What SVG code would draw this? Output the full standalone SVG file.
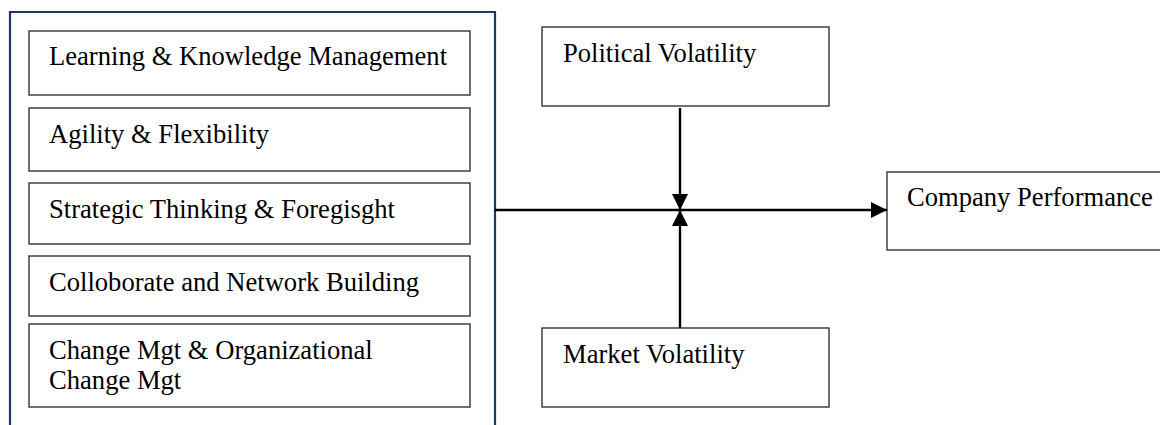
<svg xmlns="http://www.w3.org/2000/svg" width="1160" height="425" viewBox="0 0 1160 425">
  <style>
    .box { fill: #ffffff; stroke: #333333; stroke-width: 1.4; }
    .frame { fill: none; stroke: #1f3864; stroke-width: 2.2; }
    .label { font-family: "Liberation Serif", "Times New Roman", serif; font-size: 26.6px; fill: #000000; }
    .link { stroke: #000000; stroke-width: 2.4; fill: none; }
  </style>
  <defs>
    <marker id="head" viewBox="0 0 16 16" refX="16" refY="8" markerWidth="16" markerHeight="16" markerUnits="userSpaceOnUse" orient="auto">
      <path d="M0,0 L16,8 L0,16 Z" fill="#000000"/>
    </marker>
  </defs>
  <rect width="1160" height="425" fill="#ffffff"/>

  <!-- container framing the leadership capabilities -->
  <g id="capabilities">
    <path class="frame" d="M10,440 L10,12 L495,12 L495,440"/>
  </g>

  <g id="learning">
    <rect class="box" x="29" y="31" width="441" height="64"/>
    <text class="label" x="49" y="65">Learning &amp; Knowledge Management</text>
  </g>
  <g id="agility">
    <rect class="box" x="29" y="108" width="441" height="63"/>
    <text class="label" x="49" y="143">Agility &amp; Flexibility</text>
  </g>
  <g id="strategic">
    <rect class="box" x="29" y="183" width="441" height="61"/>
    <text class="label" x="49" y="218">Strategic Thinking &amp; Foregisght</text>
  </g>
  <g id="collaborate">
    <rect class="box" x="29" y="256" width="441" height="60"/>
    <text class="label" x="49" y="291">Colloborate and Network Building</text>
  </g>
  <g id="change">
    <rect class="box" x="29" y="324" width="441" height="83"/>
    <text class="label" x="49" y="359">Change Mgt &amp; Organizational</text>
    <text class="label" x="49" y="389">Change Mgt</text>
  </g>

  <g id="political">
    <rect class="box" x="542" y="27" width="287" height="79"/>
    <text class="label" x="563" y="62">Political Volatility</text>
  </g>
  <g id="market">
    <rect class="box" x="542" y="328" width="287" height="79"/>
    <text class="label" x="563" y="363">Market Volatility</text>
  </g>
  <g id="performance">
    <rect class="box" x="887" y="172" width="290" height="78"/>
    <text class="label" x="907" y="206">Company Performance</text>
  </g>

  <g id="connectors">
    <line class="link" x1="495" y1="210" x2="887" y2="210" marker-end="url(#head)"/>
    <line class="link" x1="680" y1="108" x2="680" y2="210" marker-end="url(#head)"/>
    <line class="link" x1="680" y1="328" x2="680" y2="210" marker-end="url(#head)"/>
  </g>
</svg>
